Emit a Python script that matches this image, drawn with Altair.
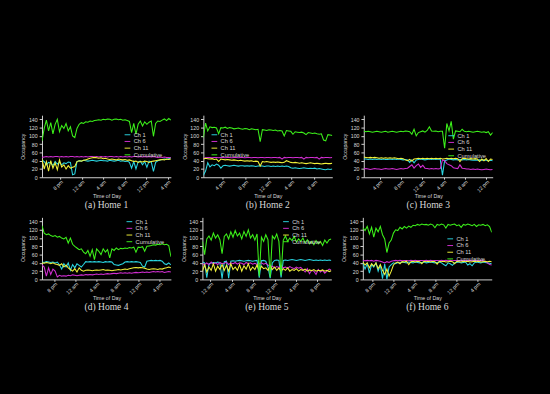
import altair as alt
import numpy as np
import pandas as pd

channels = ["Ch 1", "Ch 6", "Ch 11", "Cumulative"]
colors = ["#2ad6e2", "#d22ed2", "#f2f23a", "#3cf01a"]

# ---------------- Home 1 ----------------
h1_ch1 = [42, 38, 30, 36, 34, 28, 38, 32, 36, 30, 35, 33, 37, 36, 6, 8, 38, 40, 39, 41,
          40, 39, 40, 41, 40, 39, 40, 41, 40, 40, 39, 41, 40, 39, 40, 41, 39, 40, 38, 39,
          36, 22, 38, 20, 37, 39, 30, 38, 24, 39, 37, 14, 36, 40, 42, 43, 44, 43, 45, 47]
h1_ch6 = [48, 49, 50, 49, 50, 49, 50, 50, 49, 50, 49, 50, 49, 50, 50, 49, 50, 49, 50, 49,
          50, 49, 50, 50, 49, 50, 49, 50, 49, 50, 49, 50, 50, 49, 50, 49, 50, 49, 50, 49,
          50, 49, 50, 50, 49, 50, 49, 50, 49, 50, 49, 50, 49, 48, 49, 48, 49, 48, 48, 47]
h1_ch11 = [44, 20, 38, 15, 40, 22, 35, 18, 42, 25, 30, 20, 28, 22, 24, 26, 38, 40, 39, 41,
           42, 44, 46, 47, 48, 47, 46, 47, 45, 46, 44, 43, 44, 43, 42, 44, 43, 42, 43, 41,
           42, 40, 38, 39, 36, 38, 37, 39, 38, 36, 38, 39, 40, 41, 42, 43, 42, 44, 43, 44]
h1_cum = [88, 118, 138, 112, 132, 105, 128, 140, 110, 125, 118, 130, 112, 122, 100, 96, 118, 128, 132, 130,
          134, 133, 136, 135, 137, 138, 139, 138, 140, 139, 141, 140, 138, 140, 141, 139, 140, 138, 139, 137,
          135, 108, 130, 104, 128, 136, 124, 134, 128, 133, 136, 99, 130, 136, 135, 138, 141, 137, 142, 138]

# ---------------- Home 2 ----------------
h2_ch1 = [5, 15, 35, 25, 30, 28, 32, 29, 22, 28, 29, 28, 27, 28, 29, 28, 27, 28, 28, 27,
          28, 27, 28, 27, 26, 27, 28, 27, 26, 27, 27, 26, 27, 26, 27, 26, 27, 26, 27, 26,
          23, 22, 23, 22, 21, 22, 23, 22, 21, 22, 21, 22, 20, 21, 20, 19, 18, 20, 19, 20]
h2_ch6 = [46, 47, 48, 48, 47, 48, 48, 47, 48, 48, 47, 48, 48, 47, 48, 48, 47, 48, 48, 47,
          48, 48, 47, 48, 48, 47, 48, 48, 47, 48, 48, 47, 48, 48, 47, 48, 44, 48, 47, 48,
          48, 47, 48, 48, 47, 48, 44, 48, 47, 48, 48, 47, 48, 44, 48, 47, 48, 48, 47, 48]
h2_ch11 = [44, 46, 45, 44, 45, 43, 44, 38, 44, 43, 42, 43, 42, 41, 42, 41, 40, 41, 40, 39,
           40, 39, 40, 38, 39, 38, 27, 38, 37, 38, 37, 36, 37, 36, 37, 36, 35, 36, 40, 38,
           36, 35, 36, 35, 34, 35, 34, 33, 34, 35, 34, 33, 34, 33, 32, 33, 34, 33, 33, 34]
h2_cum = [96, 131, 112, 122, 120, 121, 119, 105, 120, 119, 121, 118, 120, 119, 117, 118, 119, 117, 116, 118,
          117, 115, 117, 116, 115, 116, 86, 115, 114, 113, 115, 114, 113, 114, 112, 113, 112, 100, 113, 112,
          111, 104, 110, 109, 108, 109, 107, 103, 108, 107, 106, 107, 105, 104, 105, 90, 88, 103, 102, 101]

# ---------------- Home 3 ----------------
h3_ch1 = [44, 44, 43, 44, 43, 44, 43, 44, 43, 44, 43, 43, 44, 43, 44, 43, 44, 43, 42, 43,
          42, 36, 42, 35, 42, 43, 44, 43, 42, 43, 44, 43, 44, 43, 44, 43, 5, 40, 42, 44,
          43, 42, 43, 42, 43, 42, 43, 42, 43, 42, 41, 42, 41, 42, 41, 42, 41, 40, 41, 40]
h3_ch6 = [20, 21, 20, 19, 20, 21, 20, 20, 19, 20, 21, 20, 20, 21, 20, 19, 20, 21, 20, 21,
          22, 26, 30, 22, 28, 32, 24, 29, 22, 21, 20, 21, 20, 21, 20, 21, 42, 40, 33, 30,
          28, 23, 22, 21, 30, 22, 21, 20, 20, 19, 20, 19, 20, 19, 18, 19, 20, 19, 18, 19]
h3_ch11 = [49, 48, 47, 48, 47, 48, 47, 46, 47, 46, 47, 46, 47, 46, 47, 46, 45, 46, 45, 42,
           40, 43, 39, 44, 45, 46, 45, 46, 45, 46, 45, 46, 45, 46, 45, 46, 44, 45, 46, 45,
           46, 45, 46, 45, 38, 45, 46, 45, 44, 45, 44, 45, 44, 38, 44, 40, 45, 38, 44, 43]
h3_cum = [112, 110, 111, 110, 109, 110, 111, 110, 109, 110, 111, 109, 110, 111, 110, 109, 110, 111, 110, 112,
          111, 110, 104, 116, 100, 108, 110, 112, 109, 113, 122, 112, 111, 112, 110, 111, 111, 70, 130, 112,
          135, 92, 112, 111, 110, 116, 111, 110, 111, 110, 109, 110, 111, 110, 109, 110, 108, 110, 102, 108]

# ---------------- Home 4 ----------------
h4_ch1 = [42, 41, 43, 42, 41, 42, 40, 42, 35, 25, 38, 30, 40, 22, 36, 28, 38, 34, 30, 36,
          43, 42, 43, 42, 43, 42, 43, 42, 41, 43, 42, 43, 42, 36, 35, 34, 36, 38, 42, 43,
          42, 43, 42, 43, 42, 41, 32, 30, 44, 45, 46, 45, 46, 45, 46, 44, 38, 36, 40, 35]
h4_ch6 = [35, 30, 8, 28, 12, 25, 20, 6, 10, 8, 9, 8, 10, 9, 11, 10, 9, 10, 11, 10,
          12, 11, 12, 11, 12, 13, 12, 13, 12, 13, 14, 13, 14, 15, 14, 15, 16, 15, 16, 15,
          16, 15, 16, 17, 16, 17, 18, 17, 18, 17, 18, 19, 18, 19, 18, 19, 17, 18, 19, 18]
h4_ch11 = [40, 39, 41, 40, 38, 40, 37, 36, 34, 38, 30, 35, 28, 24, 20, 26, 18, 28, 22, 20,
           22, 23, 22, 21, 22, 23, 22, 23, 24, 22, 23, 22, 21, 22, 23, 24, 23, 24, 25, 24,
           26, 27, 28, 29, 28, 29, 28, 27, 25, 24, 25, 26, 25, 24, 26, 25, 27, 28, 30, 28]
h4_cum = [130, 112, 108, 110, 106, 104, 106, 102, 104, 100, 98, 102, 88, 100, 85, 80, 76, 72, 74, 66,
          62, 70, 56, 72, 48, 74, 68, 60, 74, 66, 72, 52, 74, 70, 76, 72, 75, 74, 76, 75,
          77, 76, 78, 66, 78, 77, 79, 68, 80, 81, 82, 84, 83, 85, 84, 86, 84, 85, 82, 55]

# ---------------- Home 5 ----------------
h5_ch1 = [42, 40, 4, 38, 40, 41, 40, 42, 40, 2, 43, 44, 3, 44, 45, 44, 45, 46, 45, 44,
          45, 46, 45, 44, 45, 46, 4, 45, 46, 44, 30, 3, 40, 46, 47, 46, 5, 46, 47, 46,
          47, 48, 47, 46, 47, 48, 47, 46, 47, 48, 47, 46, 47, 46, 47, 46, 47, 46, 47, 46]
h5_ch6 = [38, 36, 40, 35, 42, 37, 40, 36, 41, 38, 39, 42, 36, 40, 38, 41, 37, 40, 39, 36,
          41, 38, 40, 37, 39, 36, 38, 40, 37, 39, 35, 30, 32, 28, 31, 29, 33, 28, 30, 27,
          31, 28, 26, 30, 27, 29, 24, 18, 26, 14, 22, 20, 12, 24, 18, 22, 15, 20, 25, 22]
h5_ch11 = [20, 35, 18, 30, 22, 38, 20, 32, 24, 36, 22, 34, 20, 38, 24, 30, 22, 36, 20, 33,
           25, 38, 22, 30, 24, 35, 20, 32, 26, 28, 22, 34, 24, 30, 22, 28, 20, 26, 22, 28,
           20, 24, 22, 26, 20, 24, 22, 25, 20, 23, 21, 24, 20, 22, 21, 23, 20, 22, 19, 21]
h5_cum = [92, 60, 98, 105, 95, 112, 100, 108, 96, 62, 104, 110, 98, 115, 102, 118, 105, 112, 98, 116,
          104, 120, 100, 108, 95, 110, 8, 102, 92, 108, 96, 6, 105, 98, 110, 92, 10, 95, 105, 92,
          100, 94, 104, 90, 98, 92, 100, 88, 96, 86, 92, 84, 94, 86, 92, 82, 95, 88, 96, 98]

# ---------------- Home 6 ----------------
h6_ch1 = [40, 25, 38, 15, 36, 30, 40, 20, 35, 2, 38, 0, 30, 36, 40, 38, 41, 40, 42, 41,
          40, 42, 41, 40, 42, 41, 40, 41, 42, 40, 41, 42, 41, 40, 41, 42, 40, 36, 33, 40,
          38, 34, 40, 41, 42, 40, 41, 42, 35, 38, 33, 40, 42, 41, 40, 42, 41, 40, 39, 38]
h6_ch6 = [46, 45, 46, 45, 46, 44, 46, 45, 44, 42, 40, 43, 41, 44, 45, 46, 45, 46, 45, 46,
          46, 45, 46, 45, 46, 45, 46, 46, 45, 46, 45, 46, 45, 46, 46, 45, 46, 45, 46, 45,
          46, 45, 46, 46, 45, 46, 45, 46, 45, 46, 45, 46, 46, 45, 46, 45, 44, 40, 36, 35]
h6_ch11 = [42, 35, 40, 28, 38, 32, 40, 26, 36, 22, 12, 25, 8, 20, 35, 40, 42, 38, 43, 42,
           44, 36, 43, 44, 42, 44, 43, 38, 44, 43, 44, 42, 44, 43, 37, 44, 43, 44, 42, 43,
           44, 43, 38, 44, 43, 42, 44, 43, 44, 42, 43, 44, 43, 44, 42, 43, 44, 43, 44, 43]
h6_cum = [125, 118, 128, 110, 126, 102, 124, 115, 128, 108, 98, 65, 88, 95, 112, 120, 118, 126, 122, 128,
          124, 129, 126, 131, 130, 133, 131, 134, 132, 133, 131, 134, 132, 125, 133, 131, 134, 132, 124, 133,
          131, 133, 134, 130, 132, 126, 133, 131, 134, 132, 130, 133, 128, 132, 131, 133, 130, 132, 128, 114]

captions = ["(a) Home 1", "(b) Home 2", "(c) Home 3", "(d) Home 4", "(e) Home 5", "(f) Home 6"]
spans = [(16.6, 40.6), (12.7, 35.1), (13.0, 37.2), (17.65, 42.1), (22.5, 46.6), (18.2, 42.7)]
tick_hours = [
    [20, 24, 28, 32, 36, 40],
    [16, 20, 24, 28, 32],
    [16, 20, 24, 28, 32, 36],
    [20, 24, 28, 32, 36, 40],
    [24, 28, 32, 36, 40, 44],
    [20, 24, 28, 32, 36, 40],
]
series = [
    [h1_ch1, h1_ch6, h1_ch11, h1_cum],
    [h2_ch1, h2_ch6, h2_ch11, h2_cum],
    [h3_ch1, h3_ch6, h3_ch11, h3_cum],
    [h4_ch1, h4_ch6, h4_ch11, h4_cum],
    [h5_ch1, h5_ch6, h5_ch11, h5_cum],
    [h6_ch1, h6_ch6, h6_ch11, h6_cum],
]
legend_pos = [(86, 17), (8, 17), (88, 18), (88, 1), (84, 1), (88, 19)]

FG = "#d8d8d8"
SANS = "Liberation Sans"
label_expr = ("((datum.value % 12) == 0 ? 12 : datum.value % 12) + "
              "((datum.value % 24) < 12 ? ' am' : ' pm')")


def panel(i):
    start, end = spans[i]
    rows = []
    for ch, vals in zip(channels, series[i]):
        ts = np.linspace(start, end, len(vals))
        for t, v in zip(ts, vals):
            rows.append({"t": float(t), "v": v, "ch": ch})
    df = pd.DataFrame(rows)
    lx, ly = legend_pos[i]
    return alt.Chart(df).mark_line(strokeWidth=1.1, clip=True).encode(
        x=alt.X("t:Q",
                scale=alt.Scale(domain=[start, end], nice=False, zero=False),
                axis=alt.Axis(values=tick_hours[i], labelExpr=label_expr, labelAngle=-45,
                              title="Time of Day", titlePadding=0, labelPadding=0, tickSize=2)),
        y=alt.Y("v:Q", scale=alt.Scale(domain=[0, 150], nice=False),
                axis=alt.Axis(values=list(range(0, 141, 20)), title="Occupancy",
                              titlePadding=3, labelPadding=2)),
        color=alt.Color("ch:N", scale=alt.Scale(domain=channels, range=colors),
                        legend=alt.Legend(orient="none", legendX=lx, legendY=ly,
                                          symbolType="stroke", symbolSize=36, symbolStrokeWidth=1,
                                          labelFontSize=6, labelFont=SANS, labelColor=FG,
                                          labelOffset=3, rowPadding=0, padding=0)),
        detail="ch:N",
    ).properties(
        width=135, height=65,
        title=alt.TitleParams(captions[i], orient="bottom", font="Liberation Serif",
                              fontSize=10, fontWeight="normal", color=FG, offset=2),
    )


panels = [panel(i) for i in range(6)]
row1 = alt.hconcat(*panels[:3], spacing=10).resolve_legend(color="independent")
row2 = alt.hconcat(*panels[3:], spacing=10).resolve_legend(color="independent")
chart = alt.vconcat(row1, row2, spacing=7).resolve_legend(color="independent").properties(
    background="black",
    padding={"left": 21, "top": 111, "right": 60, "bottom": 90},
).configure_view(stroke=None).configure_axis(
    grid=False, domainColor=FG, tickColor=FG, labelColor=FG, titleColor=FG,
    labelFont=SANS, titleFont=SANS, labelFontSize=5.5, titleFontSize=5.5,
    titleFontWeight="normal", tickSize=3, domainWidth=1, tickWidth=1,
).configure_legend(title=None)

chart.save("out.html", embed_options={"renderer": "svg", "actions": False})
